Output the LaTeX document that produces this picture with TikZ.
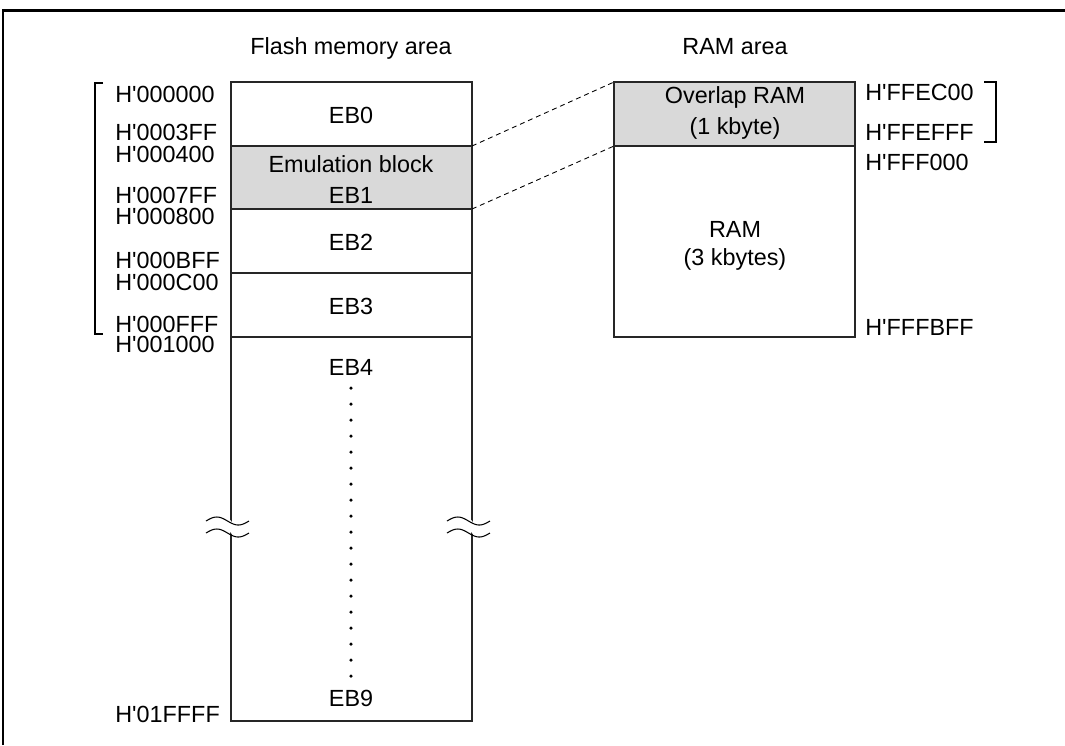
\documentclass[tikz,border=0pt]{standalone}
\usepackage{fontspec}
\setmainfont{Liberation Sans}
\definecolor{ovlgray}{RGB}{217,217,217}
\newcommand{\hx}{H\textquotesingle}
\begin{document}
\begin{tikzpicture}[x=0.02cm,y=-0.02cm]
	\tikzset{every node/.style={inner sep=0pt,font=\fontsize{13.3}{15}\selectfont},
		addr/.style={anchor=base west},
		txt/.style={anchor=base},
		blk/.style={draw=black!85,line width=0.6pt},
		ovl/.style={blk,fill=ovlgray},
		link/.style={line width=0.5pt,dash pattern=on 2.8pt off 2.2pt},
		brk/.style={line width=0.6pt}}
	\useasboundingbox (0,0) rectangle (1065,745);
	% frame
	\draw[line width=1.2pt] (3,745) -- (3,10.5) -- (1065,10.5);
	% titles
	\node[txt] (ftitle) at (351,54) {Flash memory area};
	\node[txt] (rtitle) at (735,54) {RAM area};
	% flash blocks
	\draw[blk] (231,82) rectangle (472,146);
	\draw[ovl] (231,146) rectangle (472,209);
	\draw[blk] (231,209) rectangle (472,273);
	\draw[blk] (231,273) rectangle (472,337);
	\draw[blk] (231,337) rectangle (472,721);
	\coordinate (eb1top) at (472,146);
	\coordinate (eb1bot) at (472,209);
	\node[txt] (eb0) at (351,123) {EB0};
	\node[txt] (emu) at (351,172) {Emulation block};
	\node[txt] (eb1) at (351,203) {EB1};
	\node[txt] (eb2) at (351,250) {EB2};
	\node[txt] (eb3) at (351,314) {EB3};
	\node[txt] (eb4) at (351,375) {EB4};
	\node[txt] (eb9) at (351,706) {EB9};
	\foreach \y in {388,404,...,676}
		\fill (351,\y) circle (1pt);
	% breaks
	\foreach \x in {231,472} {
		\fill[white] plot[domain=0:1,samples=30,variable=\xx] ({\x-10+20*\xx},{521-4*sin(360*\xx)})
			-- plot[domain=1:0,samples=30,variable=\xx] ({\x-10+20*\xx},{533-4*sin(360*\xx)}) -- cycle;
		\draw[brk] plot[domain=0:1,samples=40,variable=\xx] ({\x-25+43*\xx},{521-4*sin(360*\xx)});
		\draw[brk] plot[domain=0:1,samples=40,variable=\xx] ({\x-25+43*\xx},{533-4*sin(360*\xx)});
	}
	% flash addresses
	\node[addr] (a0) at (115,102) {\hx000000};
	\node[addr] (a1) at (115,140) {\hx0003FF};
	\node[addr] (a2) at (115,162) {\hx000400};
	\node[addr] (a3) at (115,203) {\hx0007FF};
	\node[addr] (a4) at (115,224) {\hx000800};
	\node[addr] (a5) at (115,268) {\hx000BFF};
	\node[addr] (a6) at (115,290) {\hx000C00};
	\node[addr] (a7) at (115,332) {\hx000FFF};
	\node[addr] (a8) at (115,352) {\hx001000};
	\node[addr] (a9) at (115,722) {\hx01FFFF};
	\draw[brk] (103,83) -- (95,83) -- (95,334) -- (103,334);
	% RAM blocks
	\draw[ovl] (614,82) rectangle (855,146);
	\draw[blk] (614,146) rectangle (855,337);
	\coordinate (ovltop) at (614,82);
	\coordinate (ovlbot) at (614,146);
	\node[txt] (ovlram) at (735,103) {Overlap RAM};
	\node[txt] (ovlsize) at (735,134) {(1 kbyte)};
	\node[txt] (ram) at (735,237) {RAM};
	\node[txt] (ramsize) at (735,265) {(3 kbytes)};
	% RAM addresses
	\node[addr] (r0) at (865,100) {\hx FFEC00};
	\node[addr] (r1) at (865,140) {\hx FFEFFF};
	\node[addr] (r2) at (865,170) {\hx FFF000};
	\node[addr] (r3) at (865,335) {\hx FFFBFF};
	\draw[brk] (984,82) -- (996,82) -- (996,142) -- (984,142);
	% overlap links
	\draw[link] (eb1top) -- (ovltop);
	\draw[link] (eb1bot) -- (ovlbot);
\end{tikzpicture}
\end{document}
